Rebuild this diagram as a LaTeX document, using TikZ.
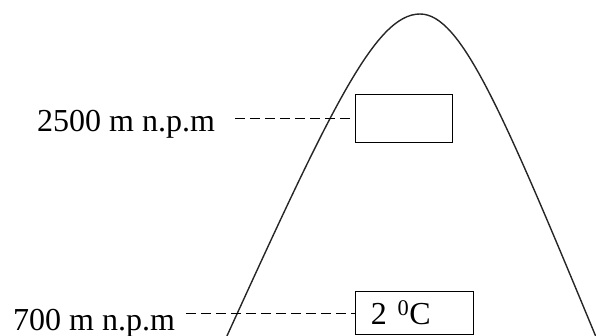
\documentclass[tikz,border=0pt]{standalone}
\usepackage{fontspec}
\setmainfont{Liberation Serif}
\usepackage{tikz}

\begin{document}
\begin{tikzpicture}[x=1pt, y=-1pt,
    every node/.style={font=\fontsize{32}{38}\selectfont},
    lbl/.style={inner sep=0pt, anchor=base west},
    gauge/.style={draw=black, line width=1.3pt, anchor=north west, inner sep=0pt},
    guide/.style={dashed, dash pattern=on 10pt off 5pt, line width=1.2pt},
    slope/.style={line width=1.4pt, black!85}]

    \useasboundingbox (0,0) rectangle (596,336);

    % mountain
    \begin{scope}
        \clip (0,0) rectangle (596,336);
        \coordinate (peak) at (420,14);
        \draw[slope] (221,349) .. controls (330,110) and (375,14) .. (peak)
                               .. controls (461,14) and (502,110) .. (601,349);
    \end{scope}

    \node[lbl] (high) at (37,132) {2500 m n.p.m};
    \node[lbl] (low) at (13,330) {700 m n.p.m};

    \node[gauge, minimum width=97pt, minimum height=48pt] (highbox) at (355,94) {};
    \node[gauge, minimum width=118pt, minimum height=43pt, text width=98pt, inner xsep=10pt, align=left] (lowbox) at (355,291) {\,2 \textsuperscript{0}C};

    \draw[guide, shorten <=20pt] (high.east |- highbox.west) -- (highbox.west);
    \draw[guide, shorten <=11pt] (low.east |- lowbox.west) -- (lowbox.west);

\end{tikzpicture}
\end{document}
